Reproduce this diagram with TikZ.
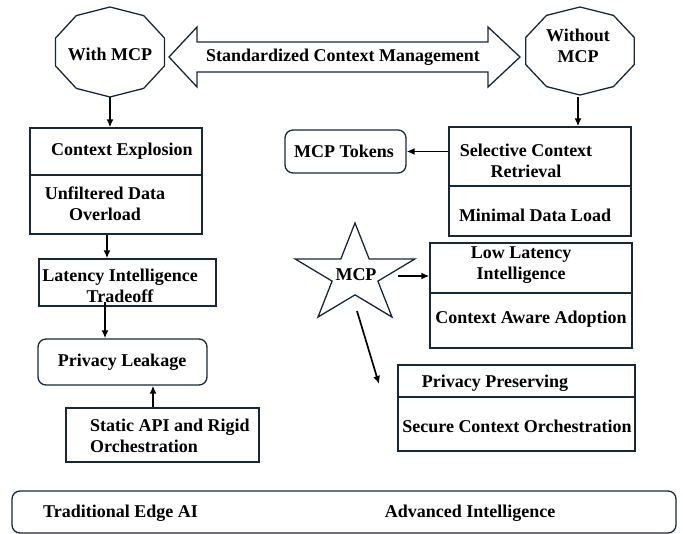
\documentclass[tikz,border=0pt]{standalone}
\usepackage{fontspec}
\setmainfont{Liberation Serif}
\usetikzlibrary{arrows.meta,calc}
\definecolor{linec}{RGB}{25,40,55}
\begin{document}
\begin{tikzpicture}[x=1pt,y=-1pt,
  txt/.style={font=\fontsize{18}{21}\selectfont\bfseries, text=black, inner sep=0pt, align=center},
  boxx/.style={draw=linec, line width=1.3pt, inner sep=0pt, minimum width=#1},
  rbox/.style={boxx=#1, rounded corners=8pt},
  shp/.style={draw=linec, line width=1.3pt, line join=miter},
  arr/.style={-{Latex[length=8pt,width=7pt]}, line width=1.7pt, draw=black}]
\useasboundingbox (0,0) rectangle (683,534);

% octagon-like shapes
\draw[shp, shift={(110,52)}, xscale=57.3, yscale=45] (90:1) \foreach \a in {126,162,...,414}{ -- (\a:1)} -- cycle;
\node[txt] (with) at (110,54) {With MCP};
\coordinate (withb) at (110,97);

\draw[shp, shift={(580,51)}, xscale=57, yscale=44] (90:1) \foreach \a in {126,162,...,414}{ -- (\a:1)} -- cycle;
\node[txt] (without) at (578,46) {Without\\MCP};
\coordinate (withoutb) at (578,97);

% double arrow
\draw[shp] (169,57) -- (197,27) -- (197,42) -- (488,42) -- (488,27) -- (520,57)
  -- (488,87) -- (488,72) -- (197,72) -- (197,87) -- cycle;
\node[txt] (std) at (343,57) {Standardized Context Management};

% left column
\node[boxx=172, minimum height=47] (ctxA) at (116,151.5) {};
\node[boxx=172, minimum height=59] (ctxB) at (116,204.5) {};
\node[txt] (ctxAt) at (122,151) {Context Explosion};
\node[txt] (ctxBt) at (105,204) {Unfiltered Data\\Overload};

\node[boxx=177, minimum height=47] (lat) at (127.5,282.5) {};
\node[txt] (latt) at (120,286) {Latency Intelligence\\Tradeoff};

\node[rbox=169, minimum height=46] (priv) at (122.5,362) {};
\node[txt] (privt) at (122,362) {Privacy Leakage};

\node[boxx=193, minimum height=54] (stat) at (162.5,435) {};
\node[txt, align=left, anchor=west] (statt) at (90,436) {Static API and Rigid\\Orchestration};

% right column
\node[rbox=121, minimum height=43] (tok) at (345.5,151.5) {};
\node[txt] (tokt) at (344,151) {MCP Tokens};

\node[boxx=182, minimum height=59] (selA) at (540,156.5) {};
\node[boxx=182, minimum height=50] (selB) at (540,211) {};
\node[txt] (selAt) at (526,161) {Selective Context\\Retrieval};
\node[txt] (selBt) at (535,215) {Minimal Data Load};

\node[boxx=202, minimum height=50] (lowA) at (531,268) {};
\node[boxx=202, minimum height=55] (lowB) at (531,320.5) {};
\node[txt] (lowAt) at (521,265.5) {Low Latency\\Intelligence};
\node[txt] (lowBt) at (531,319) {Context Aware Adoption};

\node[boxx=237, minimum height=32] (ppA) at (516.5,381) {};
\node[boxx=237, minimum height=54] (ppB) at (516.5,424) {};
\node[txt] (ppAt) at (495,383) {Privacy Preserving};
\node[txt] (ppBt) at (517,426) {Secure Context Orchestration};

% star
\draw[shp, shift={(355,275)}, xscale=63, yscale=52]
  (-90:1) \foreach \k in {1,...,9}{ -- ({-90+36*\k}:{mod(\k,2)==1 ? 0.382 : 1})} -- cycle;
\node[txt] (mcp) at (356,275) {MCP};
\coordinate (s1) at (398,276);
\coordinate (s2) at (357,311);
\coordinate (s3) at (379,384);

% bottom bar
\node[rbox=664, minimum height=42] (bar) at (344,512) {};
\node[txt] (bart1) at (120.5,513) {Traditional Edge AI};
\node[txt] (bart2) at (470,513) {Advanced Intelligence};

% connectors
\draw[arr] (withb) -- (withb |- ctxA.north);
\draw[arr] (withoutb) -- (withoutb |- selA.north);
\coordinate (c1) at ([xshift=-9]ctxB.south);
\draw[arr] (c1) -- (c1 |- lat.north);
\coordinate (c2) at ([xshift=-22.5]lat.south);
\draw[arr] ([yshift=5]c2) -- (c2 |- priv.north);
\coordinate (c3) at ([xshift=-9.5]stat.north);
\draw[arr] (c3) -- (c3 |- priv.south);
\draw[arr] (tok.east -| selA.west) -- (tok.east);
\draw[arr] (s1) -- (s1 -| lowA.west);
\draw[arr] (s2) -- (s3);
\end{tikzpicture}
\end{document}
